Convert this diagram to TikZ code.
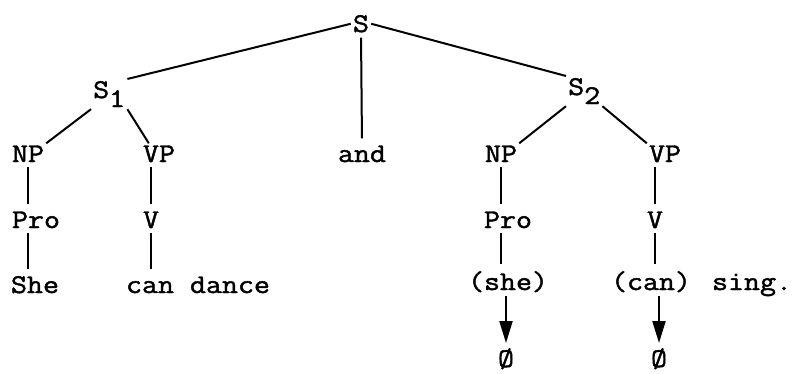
\documentclass[tikz,border=0pt]{standalone}
\usepackage{fontspec}
\newfontfamily\courf[FakeStretch=1.15,FakeBold=1.6]{Latin Modern Mono}
\usetikzlibrary{arrows.meta}
\begin{document}
\begin{tikzpicture}[x=1pt,y=-1pt,
  lab/.style={font=\courf\fontsize{27}{30}\selectfont, inner sep=2pt, anchor=base},
  edge/.style={line width=2pt},
  vline/.style={line width=2pt, shorten <=3pt, shorten >=5pt},
  del/.style={line width=2pt, shorten <=2pt, shorten >=3pt, -{Triangle[width=13pt,length=22pt]}}]
\useasboundingbox (0,0) rectangle (795,373);
% nodes
\node[lab] (S) at (361,32) {S};
\node[lab,anchor=base west] (S1) at (91,98) {S\raisebox{-9pt}{1}};
\node[lab,anchor=base west] (S2) at (566,95) {S\raisebox{-9pt}{2}};
\node[lab] (NP1) at (28,162) {NP};
\node[lab] (VP1) at (159,162) {VP};
\node[lab] (and) at (362,162) {and};
\node[lab] (NP2) at (501,162) {NP};
\node[lab] (VP2) at (665,162) {VP};
\node[lab] (Pro1) at (36,228) {Pro};
\node[lab] (V1) at (151,228) {V};
\node[lab] (Pro2) at (508,228) {Pro};
\node[lab] (V2) at (655,228) {V};
\node[lab] (She) at (35,293) {She};
\node[lab] (dance) at (198,293) {can dance};
\node[lab] (she2) at (508,290) {(she)};
\node[lab] (can2) at (651,290) {(can)};
\node[lab] (sing) at (752,290) {sing.};
\node[lab] (z1) at (506,367) {Ø};
\node[lab] (z2) at (659,367) {Ø};
% branches
\draw[edge] (S.west) -- (S1.north east);
\draw[edge] (S.east) -- (S2.north west);
\draw[vline] (S.south) -- (and.north);
\draw[edge] (S1.south west) -- (NP1.north east);
\draw[edge] (S1.south east) -- ([xshift=8pt]VP1.north west);
\draw[edge] (S2.south west) -- (NP2.north east);
\draw[edge] (S2.south east) -- (VP2.north west);
\draw[vline] (NP1.south) -- (NP1.south |- Pro1.north);
\draw[vline] (NP1.south |- Pro1.south) -- (NP1.south |- She.north);
\draw[vline] (V1.south |- VP1.south) -- (V1.north);
\draw[vline] (V1.south) -- (V1.south |- dance.north);
\draw[vline] (NP2.south) -- (NP2.south |- Pro2.north);
\draw[vline] (NP2.south |- Pro2.south) -- (NP2.south |- she2.north);
\draw[vline] (V2.south |- VP2.south) -- (V2.north);
\draw[vline] (V2.south) -- (V2.south |- can2.north);
% deletion arrows
\draw[del] (z1.north |- she2.south) -- (z1.north);
\draw[del] (z2.north |- can2.south) -- (z2.north);
\end{tikzpicture}
\end{document}
